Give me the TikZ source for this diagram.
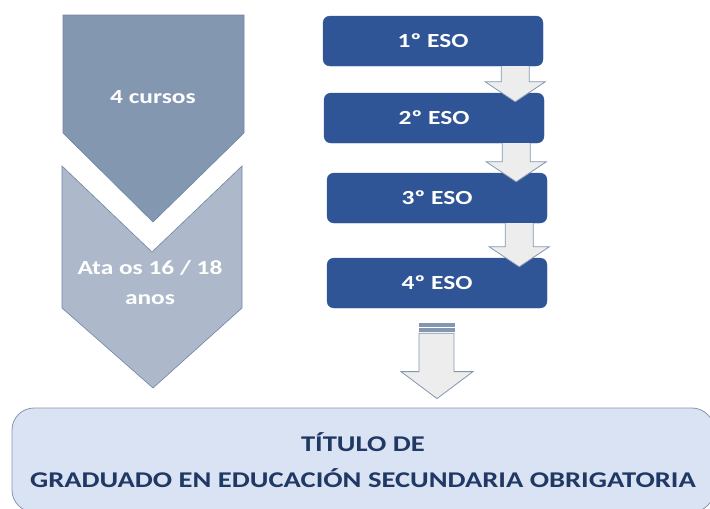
\documentclass[tikz,border=0pt]{standalone}
\usepackage{fontspec}
\setmainfont{Carlito}[FakeStretch=1.27]
\usetikzlibrary{positioning,calc}

\definecolor{chevdark}{HTML}{8497B0}
\definecolor{chevlight}{HTML}{ADB9CA}
\definecolor{chevline}{HTML}{7084A6}
\definecolor{esoblue}{HTML}{2F5597}
\definecolor{arrowfill}{HTML}{EDEDED}
\definecolor{arrowline}{HTML}{8497B0}
\definecolor{titlefill}{HTML}{DAE3F3}
\definecolor{titletext}{HTML}{203864}

\begin{document}
\begin{tikzpicture}[x=1pt,y=-1pt,
  esobox/.style={fill=esoblue, draw=esoblue, rounded corners=7pt,
    minimum width=220pt, minimum height=50pt, text=white,
    font=\bfseries\fontsize{20}{24}\selectfont},
  chevtext/.style={text=white, align=center,
    font=\bfseries\fontsize{20}{30}\selectfont},
  arrowbody/.style={fill=arrowfill},
  arrowedge/.style={draw=arrowline, line width=0.8pt, line join=miter}]
\clip (0,0) rectangle (710,509);

% chevrons on the left
\draw [fill=chevdark, draw=chevline, line width=0.6pt] (63,15) -- (244,15) -- (244,133) -- (153,222) -- (63,133) -- cycle;
\draw [fill=chevlight, draw=chevline, line width=0.6pt] (62,166) -- (152,252) -- (242,166) -- (242,308) -- (153,388) -- (62,308) -- cycle;
\node [chevtext] (cursos) at (153,97) {4 cursos};
\node [chevtext] (idade) at (150,283) {Ata os 16 / 18\\anos};

% the four courses
\node [esobox] (e1) at (433,41) {1º ESO};
\node [esobox] (e2) at (434,118) {2º ESO};
\node [esobox] (e3) at (437,198) {3º ESO};
\node [esobox] (e4) at (437,283) {4º ESO};

\foreach \a/\b in {e1/e2, e2/e3, e3/e4} {
  \fill [arrowbody] let \p1=(\a.south east), \p2=(\b.north) in
    (\x1-42pt,\y1) -- (\x1-14pt,\y1) -- (\x1-14pt,\y2+11pt) -- (\x1+2pt,\y2+11pt)
    -- (\x1-28pt,\y2-9pt) -- (\x1-58pt,\y2+11pt) -- (\x1-42pt,\y2+11pt) -- cycle;
  \draw [arrowedge] let \p1=(\a.south east), \p2=(\b.north) in
    (\x1-42pt,\y1) -- (\x1-42pt,\y2+11pt) -- (\x1-58pt,\y2+11pt) -- (\x1-28pt,\y2-9pt)
    -- (\x1+2pt,\y2+11pt) -- (\x1-14pt,\y2+11pt) -- (\x1-14pt,\y1);
}

% title
\node [fill=titlefill, draw=arrowline, line width=0.8pt, rounded corners=22pt,
  minimum width=702pt, minimum height=104pt, align=center, text=titletext,
  font=\bfseries\fontsize{22.5}{36}\selectfont, text depth=0pt] (title) at (363,460)
  {TÍTULO DE\\GRADUADO EN EDUCACIÓN SECUNDARIA OBRIGATORIA};

% striped arrow down to the title
\draw [arrowedge, fill=arrowline] let \p1=(e4.south), \p2=(title.north) in
  (\x1-18pt,\y1-15pt) rectangle (\x1+17pt,\y1-18.5pt);
\draw [arrowedge, fill=arrowline] let \p1=(e4.south), \p2=(title.north) in
  (\x1-18pt,\y1-20.5pt) rectangle (\x1+17pt,\y1-23pt);
\draw [arrowedge, arrowbody] let \p1=(e4.south), \p2=(title.north) in
  (\x1-18pt,\y1-25pt) -- (\x1+17pt,\y1-25pt) -- (\x1+17pt,\y2+36pt) -- (\x1+36pt,\y2+36pt)
  -- (\x1,\y2+9pt) -- (\x1-36pt,\y2+36pt) -- (\x1-18pt,\y2+36pt) -- cycle;
\end{tikzpicture}
\end{document}
